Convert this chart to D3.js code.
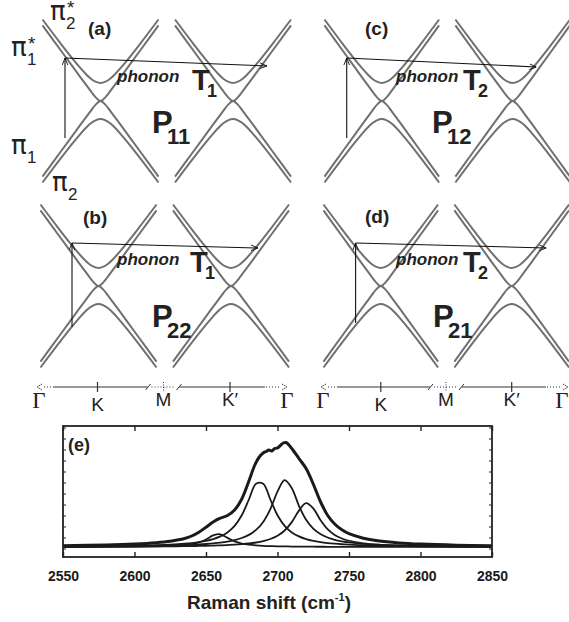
<!DOCTYPE html>
<html lang="en">
<head>
<meta charset="UTF-8">
<title>bilayer graphene 2D band</title>
<style>
  body { margin: 0; background: #fff; }
  svg { display: block; font-family: "Liberation Sans", Arial, sans-serif; }
</style>
</head>
<body>
<svg id="chart" width="569" height="622"></svg>
<script src="https://cdn.jsdelivr.net/npm/d3@7"></script>
<script>
// ---- k path (arbitrary units along Γ-K-M-K'-Γ)
const kLabels = ["Γ", "K", "M", "K′", "Γ"];
const kPos = [0, 58.5, 124.5, 191, 248];

// ---- bands, k measured from K (or K'), E from the Dirac point
const bandK   = [-58, -40, -28, -20, -14, -9, -5, 0, 5, 9, 14, 20, 28, 40, 58];
const pi2star = [81.5, 57.7, 42.4, 32.8, 26.3, 21.8, 19.3, 18, 19.3, 21.8, 26.3, 32.8, 42.4, 57.7, 81.5];
const pi1star = [75.6, 51.0, 34.6, 23.7, 15.6, 8.9, 3.9, 0, 3.9, 8.9, 15.6, 23.7, 34.6, 51.0, 75.6];
const pi1     = [-75.6, -51.0, -34.6, -23.7, -15.6, -8.9, -3.9, 0, -3.9, -8.9, -15.6, -23.7, -34.6, -51.0, -75.6];
const pi2     = [-81.5, -57.7, -42.4, -32.8, -26.3, -21.8, -19.3, -18, -19.3, -21.8, -26.3, -32.8, -42.4, -57.7, -81.5];

// ---- the four processes (a) (b) (c) (d)
const panelTags   = ["(a)", "(b)", "(c)", "(d)"];
const processSub  = ["11", "22", "12", "21"];
const phononSub   = ["1", "1", "2", "2"];
const exciteK     = [23, 32, 23, 33];      // vertical transition position
const exciteFromE = [-37, -41, -37, -37];
const exciteToE   = [43, 43, 43, 43];
const phononK     = [225, 218, 215, 226];  // end of phonon arrow near K'
const phononE     = [35, 38, 34, 38];

// ---- Raman spectrum (e)
const ramanX   = [2550, 2580, 2600, 2615, 2625, 2635, 2640, 2645, 2650, 2655, 2660, 2665, 2670, 2675, 2680, 2685, 2690, 2695, 2700, 2705, 2710, 2715, 2720, 2725, 2730, 2735, 2740, 2745, 2750, 2760, 2770, 2785, 2800, 2825, 2850];
const peak2687 = [0.50, 0.81, 1.22, 1.76, 2.35, 3.28, 3.96, 4.88, 6.13, 7.92, 10.6, 14.6, 21.1, 31.7, 47.5, 63.3, 63.3, 47.5, 31.7, 21.1, 14.6, 10.6, 7.92, 6.13, 4.88, 3.96, 3.28, 2.75, 2.35, 1.76, 1.37, 0.99, 0.74, 0.50, 0.36];
const peak2705 = [0.40, 0.61, 0.86, 1.16, 1.46, 1.89, 2.18, 2.54, 2.99, 3.58, 4.35, 5.40, 6.87, 8.98, 12.1, 17.1, 25.1, 37.9, 55.4, 66.9, 58.8, 41.2, 27.2, 18.4, 13.0, 9.52, 7.23, 5.68, 4.54, 3.10, 2.24, 1.49, 1.06, 0.67, 0.46];
const peak2720 = [0.22, 0.32, 0.43, 0.56, 0.68, 0.85, 0.96, 1.08, 1.24, 1.43, 1.67, 1.96, 2.35, 2.86, 3.55, 4.51, 5.90, 7.97, 11.2, 16.5, 24.9, 36.4, 43.9, 38.6, 27.0, 17.9, 12.1, 8.51, 6.25, 3.73, 2.44, 1.47, 0.98, 0.57, 0.37];
const peak2658 = [0.11, 0.21, 0.37, 0.65, 1.07, 1.99, 2.94, 4.61, 7.55, 11.6, 12.7, 9.14, 5.60, 3.49, 2.31, 1.62, 1.19, 0.91, 0.71, 0.58, 0.47, 0.40, 0.34, 0.29, 0.25, 0.22, 0.19, 0.17, 0.15, 0.12, 0.10, 0.08, 0.06, 0.05, 0.04];

const spectrumX = [2550, 2580, 2600, 2615, 2625, 2635, 2640, 2645, 2650, 2655, 2660, 2665, 2670, 2675, 2680, 2684, 2687, 2690, 2692, 2694, 2696, 2698, 2700, 2702, 2704, 2706, 2708, 2710, 2715, 2720, 2725, 2730, 2735, 2740, 2745, 2750, 2760, 2770, 2785, 2800, 2825, 2850];
const spectrumY = [1.3, 2.0, 3.0, 4.3, 5.8, 8.5, 11.0, 14.8, 19.8, 25.0, 28.8, 31.5, 37.0, 48.0, 66.0, 81.5, 89.5, 94.0, 95.5, 97.0, 96.0, 98.5, 99.0, 101.5, 104.0, 104.5, 102.0, 98.5, 88.5, 78.5, 63.0, 45.5, 31.8, 23.0, 17.2, 13.3, 8.8, 6.2, 4.1, 2.9, 1.8, 1.3];

const ramanTicks = [2550, 2600, 2650, 2700, 2750, 2800, 2850];
const intensityTicks = [-1.5, 9.5, 20.5, 31.5, 42.5, 53.5, 64.5, 75.5, 86.5, 97.5, 108.5, 119.5];

// ---------------------------------------------------------------
const svg = d3.select("#chart");
const defs = svg.append("defs");
defs.append("marker")
  .attr("id", "head")
  .attr("viewBox", "0 0 10 10")
  .attr("refX", 10).attr("refY", 5)
  .attr("markerWidth", 7).attr("markerHeight", 7)
  .attr("markerUnits", "userSpaceOnUse")
  .attr("orient", "auto")
  .append("path")
  .attr("d", "M0,1 L10,5 L0,9")
  .attr("fill", "none").attr("stroke", "#111").attr("stroke-width", 1.3);

// column / row layout
const colRange = [[39, 287], [323, 568]];
const rowDirac = [101, 286];
const panelCol = [0, 0, 1, 1];
const panelRow = [0, 1, 0, 1];
const panelShift = [3, 1, 1, 0];

function kScale(col) {
  return d3.scaleLinear().domain([kPos[0], kPos[4]]).range(colRange[col]);
}

// text positions for each panel
const tagXY    = [[88, 35], [83, 224], [365, 35], [365, 223]];
const phononXY = [[117, 82], [117, 265], [396, 82], [396, 265]];
const TXY      = [[192, 90], [190, 272], [463, 90], [463, 272]];
const PXY      = [[152, 133], [152, 327], [432, 133], [433, 327]];

const bands = [pi2star, pi1star, pi1, pi2];

panelTags.forEach((tag, p) => {
  const kx = kScale(panelCol[p]);
  const dirac = rowDirac[panelRow[p]];
  const ey = d3.scaleLinear().domain([-100, 100]).range([dirac + 100, dirac - 100]);
  const g = svg.append("g");
  const sx = k => kx(k) + panelShift[p];

  [kPos[1], kPos[3]].forEach(kc => {
    bands.forEach(b => {
      const line = d3.line()
        .x((d, i) => sx(kc + bandK[i]))
        .y(d => ey(d))
        .curve(d3.curveCatmullRom);
      g.append("path")
        .attr("d", line(b))
        .attr("fill", "none")
        .attr("stroke", "#707070")
        .attr("stroke-width", 2);
    });
  });

  // vertical (photon) transition
  g.append("line")
    .attr("x1", sx(exciteK[p])).attr("y1", ey(exciteFromE[p]))
    .attr("x2", sx(exciteK[p])).attr("y2", ey(exciteToE[p]))
    .attr("stroke", "#111").attr("stroke-width", 1.1)
    .attr("marker-end", "url(#head)");
  // phonon scattering
  g.append("line")
    .attr("x1", sx(exciteK[p])).attr("y1", ey(exciteToE[p]))
    .attr("x2", sx(phononK[p])).attr("y2", ey(phononE[p]))
    .attr("stroke", "#111").attr("stroke-width", 1.1)
    .attr("marker-end", "url(#head)");

  g.append("text").attr("x", tagXY[p][0]).attr("y", tagXY[p][1])
    .attr("font-size", 19).attr("font-weight", "bold").attr("fill", "#222").text(tag);
  g.append("text").attr("x", phononXY[p][0]).attr("y", phononXY[p][1])
    .attr("font-size", 17).attr("font-weight", "bold").attr("font-style", "italic")
    .attr("fill", "#222").text("phonon");
  g.append("text").attr("x", TXY[p][0]).attr("y", TXY[p][1])
    .attr("font-size", 29).attr("font-weight", "bold").attr("fill", "#222").text("T");
  g.append("text").attr("x", TXY[p][0] + 15).attr("y", TXY[p][1] + 7)
    .attr("font-size", 18).attr("font-weight", "bold").attr("fill", "#222").text(phononSub[p]);
  g.append("text").attr("x", PXY[p][0]).attr("y", PXY[p][1])
    .attr("font-size", 31).attr("font-weight", "bold").attr("fill", "#222").text("P");
  g.append("text").attr("x", PXY[p][0] + 15).attr("y", PXY[p][1] + 11)
    .attr("font-size", 22).attr("font-weight", "bold").attr("fill", "#222").text(processSub[p]);
});

// band names in panel (a)
function bandName(x, y, sub, star) {
  svg.append("text").attr("x", x).attr("y", y).attr("font-size", 26)
    .attr("font-family", "'DejaVu Sans', sans-serif").attr("fill", "#222").text("π");
  svg.append("text").attr("x", x + 16).attr("y", y + 9).attr("font-size", 17).attr("fill", "#222").text(sub);
  if (star) svg.append("text").attr("x", x + 17).attr("y", y - 6).attr("font-size", 19).attr("fill", "#222").text("*");
}
bandName(50, 20, "2", true);
bandName(11, 56, "1", true);
bandName(11, 154, "1", false);
bandName(52, 191, "2", false);

// ---- k path axes
[0, 1].forEach(col => {
  const kx = kScale(col);
  const y = 387;
  const g = svg.append("g").attr("stroke", "#333").attr("fill", "none").attr("stroke-width", 1);
  const x0 = kx(kPos[0]), xm = kx(kPos[2]), x4 = kx(kPos[4]);
  // open ends
  g.append("path").attr("d", `M${x0 + 3},${y - 3} L${x0 - 2},${y} L${x0 + 3},${y + 3}`).attr("stroke-dasharray", "1.5,1");
  g.append("line").attr("x1", x0 + 5).attr("x2", x0 + 14).attr("y1", y).attr("y2", y).attr("stroke-dasharray", "1,2");
  g.append("line").attr("x1", x0 + 14).attr("x2", xm - 16).attr("y1", y).attr("y2", y);
  g.append("line").attr("x1", xm - 18).attr("x2", xm - 13).attr("y1", y + 3).attr("y2", y - 3);
  g.append("line").attr("x1", xm - 12).attr("x2", xm + 12).attr("y1", y).attr("y2", y).attr("stroke-dasharray", "1,2");
  g.append("line").attr("x1", xm).attr("x2", xm).attr("y1", y - 5).attr("y2", y + 5).attr("stroke-dasharray", "1,1.5");
  g.append("line").attr("x1", xm + 13).attr("x2", xm + 18).attr("y1", y + 3).attr("y2", y - 3);
  g.append("line").attr("x1", xm + 16).attr("x2", x4 - 22).attr("y1", y).attr("y2", y);
  g.append("line").attr("x1", x4 - 21).attr("x2", x4 - 6).attr("y1", y).attr("y2", y).attr("stroke-dasharray", "1,2");
  g.append("path").attr("d", `M${x4 - 5},${y - 3} L${x4},${y} L${x4 - 5},${y + 3}`).attr("stroke-dasharray", "1.5,1");
  [kPos[1], kPos[3]].forEach(k => {
    g.append("line").attr("x1", kx(k)).attr("x2", kx(k)).attr("y1", y - 5).attr("y2", y + 5).attr("stroke-width", 1.2);
  });

  kLabels.forEach((lab, i) => {
    const isGamma = lab === "Γ";
    const last = col === 1 && i === kLabels.length - 1;
    svg.append("text")
      .attr("x", last ? 562 : kx(kPos[i])).attr("y", lab === "K" ? 411 : (isGamma ? 408 : 406))
      .attr("text-anchor", "middle")
      .attr("font-family", isGamma ? "'Liberation Serif', 'DejaVu Serif', serif" : null)
      .attr("font-size", isGamma ? 23 : 19)
      .attr("fill", "#222")
      .text(lab);
  });
});

// ---- Raman spectrum
const plot = { left: 63, right: 492, top: 426, bottom: 557 };
const xR = d3.scaleLinear().domain([2550, 2850]).range([plot.left, plot.right]);
const yR = d3.scaleLinear().domain([-10, 121]).range([plot.bottom, plot.top]);

const sp = svg.append("g");
const comp = d3.line().x((d, i) => xR(ramanX[i])).y(d => yR(d)).curve(d3.curveCatmullRom);
[peak2658, peak2687, peak2705, peak2720].forEach(arr => {
  sp.append("path").attr("d", comp(arr)).attr("fill", "none")
    .attr("stroke", "#1a1a1a").attr("stroke-width", 1.8);
});
const meas = d3.line().x((d, i) => xR(spectrumX[i])).y(d => yR(d)).curve(d3.curveCatmullRom);
sp.append("path").attr("d", meas(spectrumY)).attr("fill", "none")
  .attr("stroke", "#1a1a1a").attr("stroke-width", 3).attr("stroke-linejoin", "round");

// axes
const bottomAxis = d3.axisBottom(xR).tickValues(ramanTicks).tickSize(-5).tickPadding(14).tickFormat(d3.format("d"));
const ax = sp.append("g").attr("transform", `translate(0,${plot.bottom})`).call(bottomAxis);
ax.select(".domain").remove();
ax.selectAll("text").attr("font-size", 14).attr("font-weight", "bold").attr("fill", "#1a1a1a")
  .attr("font-family", "'Liberation Sans', Arial, sans-serif");
ax.selectAll("line").attr("stroke", "#222").attr("stroke-width", 1.4);

const topAxis = d3.axisTop(xR).tickValues(ramanTicks).tickSize(-5).tickFormat("");
const axT = sp.append("g").attr("transform", `translate(0,${plot.top})`).call(topAxis);
axT.select(".domain").remove();
axT.selectAll("line").attr("stroke", "#222").attr("stroke-width", 1.4);

const leftAxis = d3.axisLeft(yR).tickValues(intensityTicks).tickSize(-3).tickFormat("");
const axL = sp.append("g").attr("transform", `translate(${plot.left},0)`).call(leftAxis);
axL.select(".domain").remove();
axL.selectAll("line").attr("stroke", "#222").attr("stroke-width", 1);

const rightAxis = d3.axisRight(yR).tickValues(intensityTicks).tickSize(-3).tickFormat("");
const axR = sp.append("g").attr("transform", `translate(${plot.right},0)`).call(rightAxis);
axR.select(".domain").remove();
axR.selectAll("line").attr("stroke", "#222").attr("stroke-width", 1);

sp.append("rect")
  .attr("x", plot.left).attr("y", plot.top)
  .attr("width", plot.right - plot.left).attr("height", plot.bottom - plot.top)
  .attr("fill", "none").attr("stroke", "#222").attr("stroke-width", 1.8);

sp.append("text").attr("x", 68).attr("y", 451)
  .attr("font-size", 18).attr("font-weight", "bold").attr("fill", "#222").text("(e)");

const title = sp.append("text").attr("x", 269).attr("y", 609).attr("text-anchor", "middle")
  .attr("font-size", 19).attr("font-weight", "bold").attr("fill", "#222");
title.append("tspan").text("Raman shift (cm");
title.append("tspan").attr("font-size", 11).attr("dy", -8).text("-1");
title.append("tspan").attr("dy", 8).text(")");
</script>
</body>
</html>
